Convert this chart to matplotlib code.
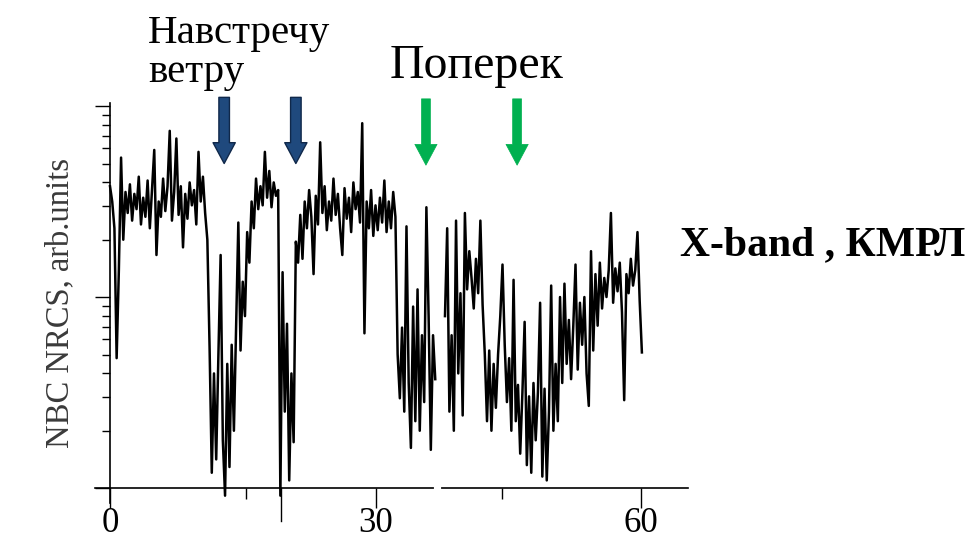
# NBC NRCS record, X-band (КМРЛ): upwind vs crosswind passes
import numpy as np
import matplotlib.pyplot as plt
from matplotlib.ticker import FixedLocator, NullFormatter

# Signal, in dB (10*log10 of NRCS, arb.units)
# samples evenly spaced in time, dt = 0.25
dt = 0.25
seg1_start = 0.0
seg2_start = 37.85

nrcs1_db = [5.8, 5.0, 3.6, -3.2, 1.4, 7.3, 3.0, 5.5, 4.4, 5.9,
            4.0, 5.4, 4.6, 6.3, 3.8, 5.2, 4.2, 6.1, 3.6, 5.6,
            7.7, 2.2, 5.0, 4.2, 6.2, 4.5, 5.8, 8.7, 4.0, 5.5,
            8.3, 4.3, 5.8, 2.6, 5.4, 4.1, 6.0, 4.8, 5.6, 3.8,
            7.6, 5.0, 6.3, 4.4, 3.0, -2.6, -9.2, -4.0, -8.5, -3.0,
            2.2, -7.5, -10.4, -3.5, -8.9, -2.5, -7.0, -1.6, 3.9, -2.8,
            0.8, -1.0, 3.4, 1.8, 5.0, 3.6, 6.2, 4.6, 5.8, 4.8,
            7.6, 5.2, 6.6, 4.7, 6.0, 5.3, 5.6, -10.4, 1.3, -6.0,
            -1.4, -9.6, -4.0, -7.6, 2.9, 1.8, 4.3, 2.0, 5.0, 3.6,
            5.6, 4.2, 1.2, 5.3, 3.8, 8.1, 4.4, 5.8, 3.5, 5.0,
            4.0, 6.2, 4.3, 5.4, 3.6, 2.2, 5.7, 4.1, 5.2, 3.4,
            6.0, 4.6, 5.5, 3.9, 9.1, -1.9, 5.0, 3.6, 5.6, 3.2,
            4.8, 3.5, 5.2, 3.9, 6.1, 3.4, 5.0, 3.6, 5.5, 4.2,
            -3.0, -5.3, -1.6, -6.0, 3.7, -4.5, -7.9, -0.5, -6.5, 0.4,
            -7.0, -2.0, -5.5, 4.7, -1.0, -8.0, -2.0, -4.3]

nrcs2_db = [-1.0, 3.6, -6.0, -2.0, -7.0, 4.0, -4.0, 0.2, -6.2, 4.4,
            0.4, 2.4, 1.0, -0.6, 2.0, 0.2, 4.0, -0.4, -3.0, -6.5,
            -2.8, -7.0, -3.5, -5.8, -3.0, -1.0, 1.7, -2.5, -5.5, -3.2,
            -7.0, 0.9, -6.5, -4.6, -8.2, -5.0, -1.3, -8.8, -5.2, -9.2,
            -4.5, -7.5, -5.0, -0.3, -9.4, -4.8, -9.6, -6.0, 0.6, -7.0,
            -3.5, -6.5, 0.0, -4.5, 0.7, -3.5, -1.2, -4.3, -1.5, 1.7,
            -3.8, -0.3, -2.5, 0.0, -4.0, -5.7, 2.4, -2.8, 1.2, -1.5,
            1.8, -0.6, 1.0, 0.0, 1.4, 4.4, -0.3, 1.5, 0.3, 1.8,
            -0.8, -5.4, 1.2, 0.2, 2.0, 0.6, 1.4, 3.4, -0.2, -2.9]

x_ticks = [0, 30, 60]
x_tick_labels = ['0', '30', '60']
x_minor = [15.4, 44.3]
upwind_arrows = [12.9, 21.0]
cross_arrows = [35.7, 46.0]

t1 = seg1_start + dt * np.arange(len(nrcs1_db))
t2 = seg2_start + dt * np.arange(len(nrcs2_db))
y1 = 10 ** (np.array(nrcs1_db) / 10)
y2 = 10 ** (np.array(nrcs2_db) / 10)

W, H = 972, 538
fig = plt.figure(figsize=(W / 100, H / 100), dpi=100)
ax = fig.add_axes([95 / W, 1 - 503 / H, (688 - 95) / W, 400 / H])

ax.plot(t1, y1, color='black', lw=1.8)
ax.plot(t2, y2, color='black', lw=1.8)

ax.set_yscale('log')
ax.set_xlim(-1.695, 65.31)
ax.set_ylim(0.0835, 10.37)

# axes cross at (0, 0.1) with overhang
ax.spines['left'].set_position(('data', 0))
ax.spines['bottom'].set_position(('data', 0.1))
ax.spines['top'].set_visible(False)
ax.spines['right'].set_visible(False)
for s in ['left', 'bottom']:
    ax.spines[s].set_linewidth(1.2)

ax.yaxis.set_major_locator(FixedLocator([0.1, 1, 10]))
ax.yaxis.set_minor_locator(FixedLocator([k * 10.0 ** e for e in (-1, 0) for k in range(2, 10)]))
ax.yaxis.set_major_formatter(NullFormatter())
ax.yaxis.set_minor_formatter(NullFormatter())
ax.tick_params(axis='y', which='major', direction='out', length=10.8, width=1.0)
ax.tick_params(axis='y', which='minor', direction='out', length=5.8, width=1.0)

ax.set_xticks(x_ticks)
ax.set_xticklabels(x_tick_labels, fontfamily='Liberation Serif', fontsize=25)
ax.set_xticks(x_minor, minor=True)
ax.tick_params(axis='x', which='major', direction='out', length=14.4, width=1.0, pad=-1)
ax.tick_params(axis='x', which='minor', direction='out', length=8, width=1.0)

# long stray tick and gap in the x axis line
ax.plot([19.3, 19.3], [0.1, 0.0672], color='black', lw=1.0, clip_on=False)
ax.plot([36.85, 37.15], [0.1, 0.1], color='white', lw=3, clip_on=False, zorder=5)

ax.set_ylabel('NBC NRCS, arb.units', fontfamily='Liberation Serif', fontsize=23.5,
              color='#3a3a3a', labelpad=11)

# arrows
for xa in upwind_arrows:
    ax.annotate('', xy=(xa, 5.0), xytext=(xa, 11.1),
                arrowprops=dict(arrowstyle='simple,head_length=0.75,head_width=0.8,tail_width=0.38',
                                fc='#1f497d', ec='#10284a', lw=1, mutation_scale=20,
                                shrinkA=0, shrinkB=0))
for xa in cross_arrows:
    ax.annotate('', xy=(xa, 4.9), xytext=(xa, 10.9),
                arrowprops=dict(arrowstyle='simple,head_length=0.75,head_width=0.8,tail_width=0.32',
                                fc='#00b050', ec='#00b050', lw=0.5, mutation_scale=20,
                                shrinkA=0, shrinkB=0))

fig.text(148 / W, 1 - 82 / H, 'Навстречу\nветру', fontfamily='Liberation Serif',
         fontsize=29.5, ha='left', va='baseline', linespacing=1.08)
fig.text(390 / W, 1 - 78 / H, 'Поперек', fontfamily='Liberation Serif',
         fontsize=34.5, ha='left', va='baseline')
fig.text(680 / W, 1 - 255 / H, 'X-band , КМРЛ', fontfamily='Liberation Serif',
         fontsize=30, fontweight='bold', ha='left', va='baseline')

fig.savefig('out.png', dpi=100)
